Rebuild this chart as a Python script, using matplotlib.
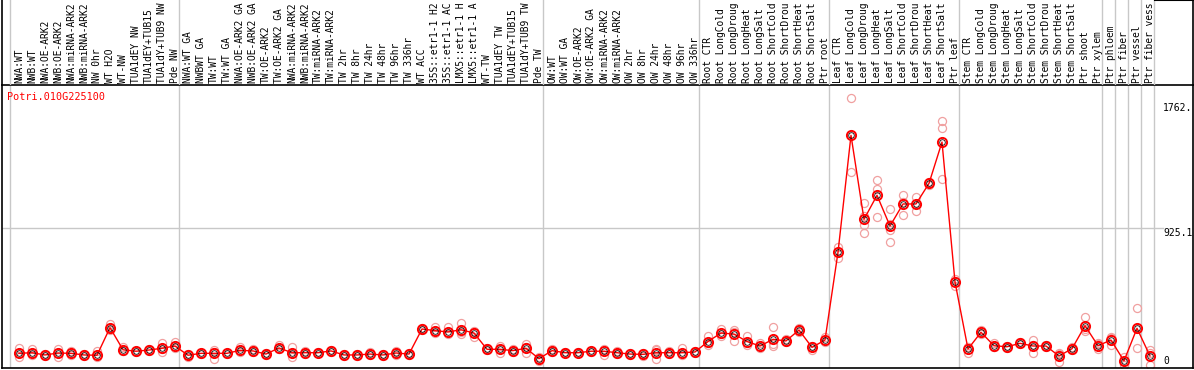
import matplotlib
matplotlib.use("Agg")
from matplotlib import pyplot as plt

plt.rcParams["font.family"] = ["DejaVu Sans Mono"]

W, H = 1194, 370

title = "Potri.010G225100"

# sample names as shown (the source cuts them at 14 characters)
labels = [
    "NWA:WT", "NWB:WT", "NWA:OE-ARK2", "NWB:OE-ARK2", "NWA:miRNA-ARK2",
    "NWB:miRNA-ARK2", "NW 0hr", "WT H2O", "WT-NW", "TUA1dEY NW",
    "TUA1dEY+TUB15", "TUA1dY+TUB9 NW", "Pde NW",
    "NWA:WT GA", "NWBWT GA", "TW:WT", "TW:WT GA", "NWA:OE-ARK2 GA",
    "NWB:OE-ARK2 GA", "TW:OE-ARK2", "TW:OE-ARK2 GA", "NWA:miRNA-ARK2",
    "NWB:miRNA-ARK2", "TW:miRNA-ARK2", "TW:miRNA-ARK2", "TW 2hr", "TW 8hr",
    "TW 24hr", "TW 48hr", "TW 96hr", "TW 336hr", "WT ACC", "35S::etr1-1 H2",
    "35S::etr1-1 AC", "LMX5::etr1-1 H", "LMX5::etr1-1 A", "WT-TW",
    "TUA1dEY TW", "TUA1dEY+TUB15", "TUA1dY+TUB9 TW", "Pde TW",
    "OW:WT", "OW:WT GA", "OW:OE-ARK2", "OW:OE-ARK2 GA", "OW:miRNA-ARK2",
    "OW:miRNA-ARK2", "OW 2hr", "OW 8hr", "OW 24hr", "OW 48hr", "OW 96hr",
    "OW 336hr",
    "Root CTR", "Root LongCold", "Root LongDroug", "Root LongHeat",
    "Root LongSalt", "Root ShortCold", "Root ShortDrou", "Root ShortHeat",
    "Root ShortSalt", "Ptr root",
    "Leaf CTR", "Leaf LongCold", "Leaf LongDroug", "Leaf LongHeat",
    "Leaf LongSalt", "Leaf ShortCold", "Leaf ShortDrou", "Leaf ShortHeat",
    "Leaf ShortSalt", "Ptr leaf",
    "Stem CTR", "Stem LongCold", "Stem LongDroug", "Stem LongHeat",
    "Stem LongSalt", "Stem ShortCold", "Stem ShortDrou", "Stem ShortHeat",
    "Stem ShortSalt", "Ptr shoot", "Ptr xylem",
    "Ptr phloem", "Ptr fiber", "Ptr vessel", "Ptr fiber vess",
]

# first column index of each sample group (last entry = end)
group_starts = [0, 13, 41, 53, 63, 73, 84, 85, 86, 87, 88]

means = [
    85, 89, 74, 87, 85, 74, 72, 257, 109, 99, 107, 119, 134,
    72, 85, 85, 85, 105, 101, 80, 121, 89, 89, 89, 101, 74, 74, 80, 74, 87,
    80, 248, 237, 228, 243, 221, 112, 112, 103, 119, 49,
    103, 89, 89, 99, 99, 89, 80, 78, 89, 89, 89, 94,
    164, 221, 214, 164, 134, 179, 168, 241, 125, 174,
    762, 1546, 983, 1144, 938, 1086, 1086, 1224, 1501, 563,
    114, 226, 136, 129, 152, 134, 134, 67, 116, 270, 136,
    174, 34, 253, 67,
]

reps = [
    [119, 58, 85], [112, 72, 89], [80, 67, 74], [112, 62, 87], [99, 74, 85],
    [80, 67, 72], [103, 62, 67], [281, 253, 240], [130, 99, 103], [103, 96, 99],
    [112, 103, 107], [152, 96, 112], [163, 119, 125],
    [80, 62, 72], [89, 80, 85], [107, 45, 96], [89, 82, 85], [125, 96, 99],
    [112, 94, 99], [85, 74, 80], [141, 112, 116], [125, 58, 89], [99, 80, 89],
    [94, 85, 89], [107, 96, 101], [80, 67, 74], [80, 67, 74], [94, 72, 80],
    [80, 67, 74], [99, 76, 85], [85, 76, 80], [258, 240, 248], [259, 219, 233],
    [263, 212, 221], [286, 214, 230], [237, 196, 228], [119, 105, 112],
    [136, 85, 116], [112, 94, 103], [147, 85, 125], [62, 36, 49],
    [112, 96, 103], [94, 85, 89], [94, 85, 89], [103, 94, 99], [112, 74, 107],
    [103, 80, 89], [89, 72, 80], [89, 67, 78], [107, 45, 112], [99, 80, 89],
    [119, 80, 72], [99, 89, 94],
    [201, 154, 140], [246, 201, 217], [241, 170, 230], [201, 152, 140],
    [152, 119, 130], [259, 134, 145], [179, 160, 165], [257, 228, 238],
    [136, 107, 130], [196, 165, 160],
    [800, 722, 765], [1794, 1298, 1546], [1090, 945, 893, 1003],
    [1247, 1186, 997], [1052, 911, 833, 955], [1146, 1014, 1098],
    [1135, 1039, 1086], [1235, 1211, 1226], [1640, 1593, 1253], [583, 538, 568],
    [85, 125, 130], [241, 217, 220], [152, 125, 130], [136, 121, 130],
    [160, 145, 152], [174, 89, 139], [141, 125, 136], [89, 29, 80],
    [125, 107, 116], [326, 237, 248], [152, 112, 145],
    [196, 141, 185], [7, 34, 60], [387, 119, 253], [107, 89, 7],
]

y_ticks = [0, 925.1, 1762]
y_tick_text = ["0", "925.1", "1762."]

RED = "#ff0000"
PINK = "#f0a0a0"
GRID = "#c8c8c8"

fig = plt.figure(figsize=(W / 100, H / 100), dpi=100)

# pixel geometry of the original image
left_px, right_px = 1.5, 1193
head_bot = 85
plot_bot = 368
x_lo = (left_px - 19) / 13
x_hi = (right_px - 19) / 13
y_lo = -(plot_bot - 366) / 0.1492
y_hi = (366 - head_bot) / 0.1492

ax = fig.add_axes([left_px / W, (H - plot_bot) / H,
                   (right_px - left_px) / W, (plot_bot - head_bot) / H])
hd = fig.add_axes([left_px / W, (H - head_bot) / H,
                   (right_px - left_px) / W, head_bot / H])

for a in (ax, hd):
    a.set_xlim(x_lo, x_hi)
    a.set_xticks([])
    a.set_yticks([])
    a.patch.set_alpha(0)
    for s in a.spines.values():
        s.set_color("black")
        s.set_linewidth(1.2)
    for g in group_starts:
        a.axvline(g - 0.69, color=GRID, lw=1, zorder=1)

ax.set_ylim(y_lo, y_hi)
hd.set_ylim(0, 1)
hd.spines["top"].set_visible(False)
hd.spines["bottom"].set_visible(False)
hd.plot([(1155 - 19) / 13, x_hi], [1, 1], color="black", lw=1.5, clip_on=False)

xs = list(range(len(means)))

# replicates
for i, r in enumerate(reps):
    ax.plot([i] * len(r), r, linestyle="none", marker="o", ms=5.8,
            mfc="none", mec=PINK, mew=0.9, zorder=2)

ax.plot(xs, means, color=RED, lw=1.0, zorder=3)
ax.plot(xs, means, linestyle="none", marker="o", ms=6.6, mfc="none",
        mec=RED, mew=1.4, zorder=4)
ax.plot(xs, means, linestyle="none", marker="o", ms=4.0, mfc="none",
        mec="black", mew=0.55, zorder=5)

# horizontal grid line and right-hand value labels
x_lab = (1163 - left_px) / (right_px - left_px)
ax.axhline(925.1, xmin=0, xmax=x_lab, color=GRID, lw=1, zorder=1)
for v, t in zip(y_ticks, y_tick_text):
    ax.text(x_lab, v, t, transform=ax.get_yaxis_transform(),
            va="bottom" if v == 0 else "top", ha="left", fontsize=7,
            color="black")

ax.text((7 - left_px) / (right_px - left_px), 1 - (97 - head_bot) / (plot_bot - head_bot),
        title, transform=ax.transAxes, color=RED, fontsize=7.3,
        va="center", ha="left")

# sample labels in the header
for i, lab in enumerate(labels):
    hd.text(i, 2 / head_bot, lab, rotation=90, ha="center", va="bottom",
            fontsize=6.9, color="black")

fig.savefig("out.png", dpi=100)
